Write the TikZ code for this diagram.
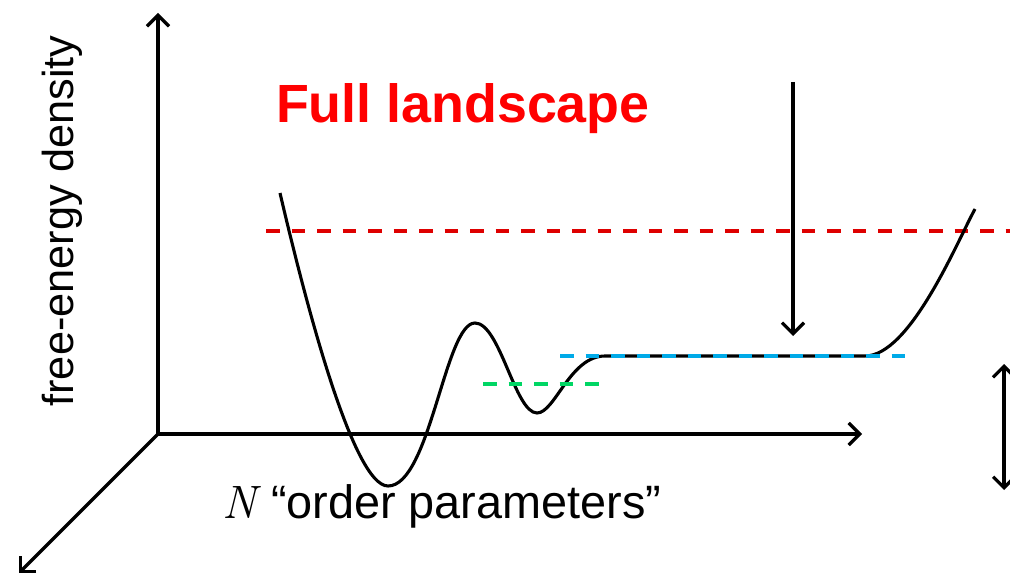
\documentclass[tikz,border=0pt]{standalone}
\usepackage{fontspec}
\setmainfont{Liberation Sans}
\newfontfamily\lmroman{Latin Modern Roman}
\usetikzlibrary{arrows.meta}
\definecolor{dred}{RGB}{222,0,0}
\definecolor{dblue}{RGB}{0,170,232}
\definecolor{dgreen}{RGB}{0,214,100}
\begin{document}
\begin{tikzpicture}[x=1bp,y=-1bp,
  barb/.style={-{Straight Barb[length=11bp,width=22bp]}},
  axis/.style={line width=3.2bp, barb},
  curve/.style={line width=3.1bp, line join=round},
  lvl/.style={line width=4bp, dash pattern=on 13.5bp off 12bp},
  lbl/.style={inner sep=0pt, outer sep=0pt}]
\useasboundingbox (0,0) rectangle (1010,576);
\clip (0,0) rectangle (1010,576);
% axes
\coordinate (O) at (158,434);
\coordinate (Ytip) at (158,13);
\coordinate (Xtip) at (862,434);
\coordinate (Ztip) at (19,573);
\draw[axis] (O) -- (Ytip);
\draw[axis] (O) -- (Xtip);
\draw[axis] (O) -- (Ztip);
% dashed levels
\coordinate (R1) at (266,231); \coordinate (R2) at (1012,231);
\coordinate (B1) at (560,356); \coordinate (B2) at (905,356);
\coordinate (G1) at (483,384); \coordinate (G2) at (600,384);
\draw[lvl, dred] (R1) -- (R2);
% curve
\draw[curve] (280,193) .. controls (305,300) and (353,486) .. (388,486)
  .. controls (430,486) and (445,323) .. (475,323)
  .. controls (500,323) and (515,413) .. (537,413)
  .. controls (555,413) and (570,356) .. (605,356)
  -- (865,356)
  .. controls (910,356) and (957,242) .. (975,209);
\draw[lvl, dblue] (B1) -- (B2);
\draw[lvl, dgreen] (G1) -- (G2);
% arrows
\coordinate (A1) at (793,82); \coordinate (A2) at (793,336);
\draw[axis] (A1) -- (A2);
\coordinate (D1) at (1004,364); \coordinate (D2) at (1004,490);
\draw[line width=3.2bp, {Straight Barb[length=11bp,width=22bp]}-{Straight Barb[length=11bp,width=22bp]}] (D1) -- (D2);
% labels
\node[lbl, text=red, anchor=base west] (title) at (276,123)
  {\fontsize{54}{60}\selectfont\bfseries Full landscape};
\node[lbl, rotate=90, anchor=base] (ylab) at (73,221)
  {\fontsize{43.5}{50}\selectfont free-energy density};
\node[lbl, anchor=base west] (xlab) at (222,518)
  {{\lmroman\itshape\fontsize{47}{55}\selectfont N}\hspace{15bp}\fontsize{47}{50}\selectfont “order parameters”};
\end{tikzpicture}
\end{document}
